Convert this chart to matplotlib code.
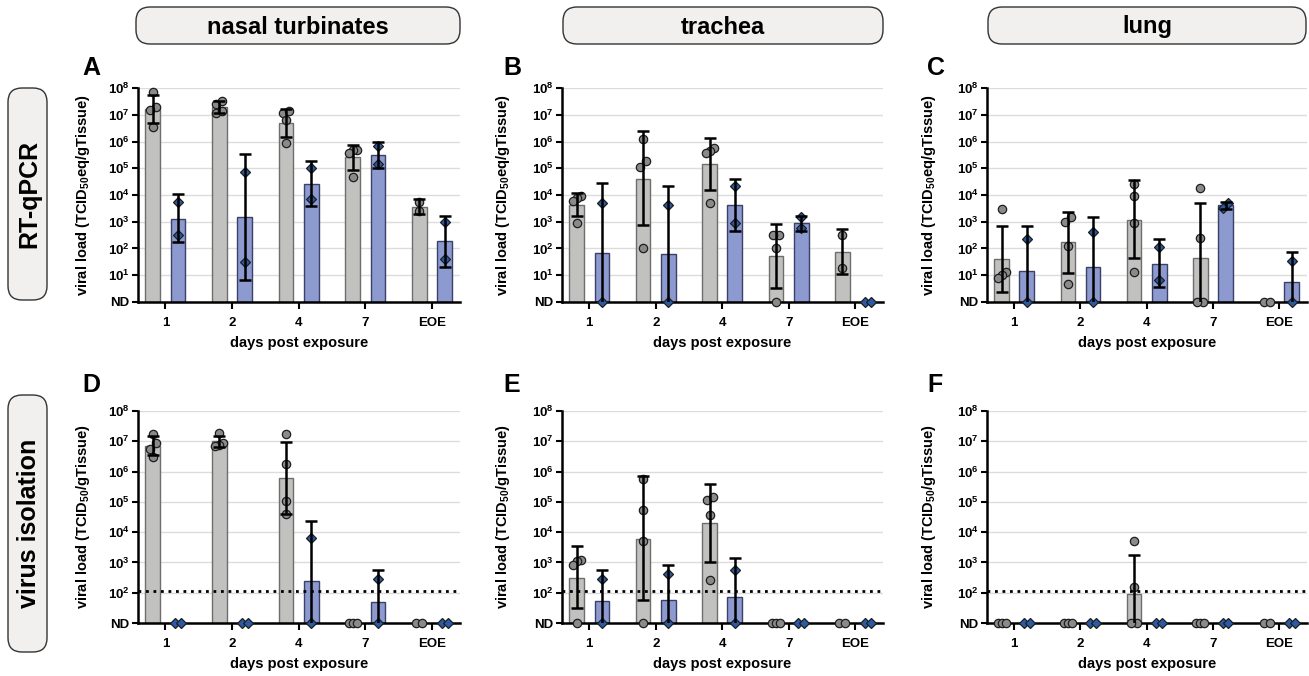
import matplotlib
matplotlib.use('Agg')
import matplotlib.pyplot as plt
import numpy as np
from matplotlib.patches import FancyBboxPatch

plt.rcParams['font.family'] = ['Liberation Sans', 'DejaVu Sans']
plt.rcParams['font.weight'] = 'bold'
plt.rcParams['mathtext.fontset'] = 'custom'
plt.rcParams['mathtext.rm'] = 'Liberation Sans'
plt.rcParams['mathtext.bf'] = 'Liberation Sans:bold'

W, H = 1309, 676
days = ['1', '2', '4', '7', 'EOE']
tissues = ['nasal turbinates', 'trachea', 'lung']
assays = ['RT-qPCR', 'virus isolation']
ND = 0  # not detected

# ---- RT-qPCR, nasal turbinates (A)
a_grey_mean = [1.6e7, 1.95e7, 4.9e6, 2.6e5, 3.5e3]
a_grey_hi = [5.6e7, 3.2e7, 1.7e7, 7.6e5, 6.8e3]
a_grey_lo = [4.9e6, 1.2e7, 1.5e6, 8.3e4, 1.95e3]
a_grey_pts = [[7e7, 2.0e7, 1.55e7, 3.5e6], [2.6e7, 3.2e7, 1.2e7, 1.35e7],
              [1.2e7, 1.35e7, 6.2e6, 8.7e5], [4.9e5, 4.9e5, 3.7e5, 4.7e4], [5.4e3, 2.5e3]]
a_blue_mean = [1.3e3, 1.5e3, 2.6e4, 3.2e5, 1.9e2]
a_blue_hi = [1.05e4, 3.5e5, 1.8e5, 9.8e5, 1.7e3]
a_blue_lo = [1.7e2, 6.5, 4.0e3, 1.0e5, 20]
a_blue_pts = [[5.6e3, 3.2e2], [7.1e4, 32], [1.0e5, 6.8e3], [6.9e5, 1.4e5], [9.5e2, 41]]

# ---- RT-qPCR, trachea (B)
b_grey_mean = [4.3e3, 4.0e4, 1.45e5, 52, 76]
b_grey_hi = [1.23e4, 2.4e6, 1.35e6, 830, 550]
b_grey_lo = [1.6e3, 780, 1.55e4, 3.4, 10.7]
b_grey_pts = [[9.5e3, 7.5e3, 6e3, 9e2], [1.25e6, 1.8e5, 1.15e5, 107],
              [5.6e5, 4.6e5, 3.6e5, 4.9e3], [310, 310, 100, ND], [310, 19]]
b_blue_mean = [68, 60, 4.3e3, 910, None]
b_blue_hi = [2.8e4, 2.2e4, 4.1e4, 1.7e3, None]
b_blue_lo = [ND, ND, 450, 470, None]
b_blue_pts = [[4.9e3, ND], [4.1e3, ND], [2.1e4, 890], [1.5e3, 590], [ND, ND]]

# ---- RT-qPCR, lung (C)
c_grey_mean = [41, 174, 1.2e3, 45, None]
c_grey_hi = [690, 2.4e3, 3.5e4, 5.1e3, None]
c_grey_lo = [2.4, 12.3, 45, ND, None]
c_grey_pts = [[2.9e3, 13, 9.8, 7.8], [1.0e3, 1.5e3, 129, 4.7],
              [2.6e4, 9.1e3, 870, 13.3], [1.8e4, 245, ND, ND], [ND, ND]]
c_blue_mean = [15, 20, 27, 4.1e3, 5.6]
c_blue_hi = [690, 1.45e3, 220, 5.4e3, 72]
c_blue_lo = [ND, ND, 3.5, 3.0e3, ND]
c_blue_pts = [[230, ND], [410, ND], [115, 6.5], [3.3e3, 5e3], [35, ND]]

# ---- virus isolation, nasal turbinates (D)
d_grey_mean = [7.1e6, 1.0e7, 6.0e5, None, None]
d_grey_hi = [1.5e7, 1.55e7, 9.5e6, None, None]
d_grey_lo = [3.5e6, 6.6e6, 3.9e4, None, None]
d_grey_pts = [[1.75e7, 9.1e6, 5.5e6, 3.0e6], [1.85e7, 9.1e6, 7.8e6, 7.1e6],
              [1.75e7, 1.8e6, 1.1e5, 4.1e4], [ND, ND, ND], [ND, ND]]
d_blue_mean = [None, None, 245, 51, None]
d_blue_hi = [None, None, 2.3e4, 560, None]
d_blue_lo = [None, None, ND, ND, None]
d_blue_pts = [[ND, ND], [ND, ND], [6.2e3, ND], [275, ND], [ND, ND]]

# ---- virus isolation, trachea (E)
e_grey_mean = [310, 6.0e3, 2.0e4, None, None]
e_grey_hi = [3.5e3, 7.1e5, 3.8e5, None, None]
e_grey_lo = [31, 56, 1.07e3, None, None]
e_grey_pts = [[1.23e3, 1.15e3, 850, ND], [5.8e5, 5.4e4, 5.2e3, ND],
              [1.15e5, 1.5e5, 3.6e4, 270], [ND, ND, ND], [ND, ND]]
e_blue_mean = [52, 59, 72, None, None]
e_blue_hi = [575, 850, 1.4e3, None, None]
e_blue_lo = [ND, ND, ND, None, None]
e_blue_pts = [[290, ND], [400, ND], [575, ND], [ND, ND], [ND, ND]]

# ---- virus isolation, lung (F)
f_grey_mean = [None, None, 91, None, None]
f_grey_hi = [None, None, 1.8e3, None, None]
f_grey_lo = [None, None, ND, None, None]
f_grey_pts = [[ND, ND, ND], [ND, ND, ND], [5.2e3, 150, ND, ND], [ND, ND, ND], [ND, ND]]
f_blue_mean = [None] * 5
f_blue_hi = [None] * 5
f_blue_lo = [None] * 5
f_blue_pts = [[ND, ND]] * 5

lod_vi = 110  # detection limit, virus isolation

panels = [
    ('A', a_grey_mean, a_grey_hi, a_grey_lo, a_grey_pts, a_blue_mean, a_blue_hi, a_blue_lo, a_blue_pts),
    ('B', b_grey_mean, b_grey_hi, b_grey_lo, b_grey_pts, b_blue_mean, b_blue_hi, b_blue_lo, b_blue_pts),
    ('C', c_grey_mean, c_grey_hi, c_grey_lo, c_grey_pts, c_blue_mean, c_blue_hi, c_blue_lo, c_blue_pts),
    ('D', d_grey_mean, d_grey_hi, d_grey_lo, d_grey_pts, d_blue_mean, d_blue_hi, d_blue_lo, d_blue_pts),
    ('E', e_grey_mean, e_grey_hi, e_grey_lo, e_grey_pts, e_blue_mean, e_blue_hi, e_blue_lo, e_blue_pts),
    ('F', f_grey_mean, f_grey_hi, f_grey_lo, f_grey_pts, f_blue_mean, f_blue_hi, f_blue_lo, f_blue_pts),
]

GREY_BAR, GREY_EDGE, GREY_PT = '#C1C2C0', '#6E6E6E', '#8A8A8A'
BLUE_BAR, BLUE_EDGE, BLUE_PT = '#8C9AD0', '#3B4066', '#2B5AA5'
PX_CAT = 66.5  # pixels per category


def swarm(vals, nd, px_dec, thr=7.0):
    # spread points that overlap vertically, like a scatter dot plot
    v = np.array([nd if x == ND else x for x in vals], dtype=float)
    y = np.log10(v)
    order = np.argsort(y)
    offs = np.zeros(len(y))
    clusters = []
    for i in order:
        if clusters and (y[i] - y[clusters[-1][-1]]) * px_dec < thr:
            clusters[-1].append(i)
        else:
            clusters.append([i])
    for c in clusters:
        n = len(c)
        if n < 2:
            continue
        step = (6.0 + (n - 2) * 2.0) / (n - 1) / PX_CAT
        for k, i in enumerate(c):
            offs[i] = (k - (n - 1) / 2) * step
    return offs, v


def draw_group(ax, xc, mean, hi, lo, pts, nd, px_dec, bar_c, edge_c, pt_c, marker, ms):
    for i in range(len(days)):
        x = xc[i]
        if mean[i] is not None:
            ax.bar(x, mean[i] - nd, bottom=nd, width=0.22, color=bar_c,
                   edgecolor=edge_c, linewidth=1.0, zorder=2)
        offs, v = swarm(pts[i], nd, px_dec)
        ax.plot(x + offs, v, linestyle='none', marker=marker, ms=ms,
                mfc=pt_c, mec='#1E1E1E', mew=0.9, zorder=3, clip_on=False)
        if mean[i] is not None:
            low = nd * 0.05 if lo[i] == ND else lo[i]
            ax.errorbar(x, mean[i], yerr=[[mean[i] - low], [hi[i] - mean[i]]],
                        fmt='none', ecolor='black', elinewidth=1.8, capsize=4.5,
                        capthick=1.8, zorder=4)


fig = plt.figure(figsize=(W / 100, H / 100), dpi=100)

# overlay in pixel units for header boxes
ov = fig.add_axes([0, 0, 1, 1])
ov.set_xlim(0, W)
ov.set_ylim(H, 0)
ov.axis('off')

col_boxes = [(136, 460), (563, 883), (988, 1306)]
for (x0, x1), name in zip(col_boxes, tissues):
    ov.add_patch(FancyBboxPatch((x0, 7), x1 - x0, 37, boxstyle='round,pad=0,rounding_size=14',
                                fc='#F2F0EF', ec='#333333', lw=1.0))
    ov.text((x0 + x1) / 2, 27, name, ha='center', va='center', fontsize=17, fontweight='bold')

row_boxes = [(88, 300), (395, 652)]
for (y0, y1), name in zip(row_boxes, assays):
    ov.add_patch(FancyBboxPatch((8, y0), 39, y1 - y0, boxstyle='round,pad=0,rounding_size=14',
                                fc='#F2F0EF', ec='#333333', lw=1.0))
    ov.text(29, (y0 + y1) / 2, name, ha='center', va='center', rotation=90,
            fontsize=18, fontweight='bold')

col_left = [138, 562, 987]
col_w = [322, 321, 320]
row_top = [88, 411]
row_bot = [302, 623]
letter_x = [82, 503, 927]
letter_y = [75, 392]
ylab_x = [92, 512, 938]

xpos = np.arange(len(days))
for idx, p in enumerate(panels):
    letter, gm, gh, gl, gp, bm, bh, bl, bp = p
    r, c = divmod(idx, 3)
    left, width = col_left[c], col_w[c]
    top, bot = row_top[r], row_bot[r]
    ax = fig.add_axes([left / W, 1 - bot / H, width / W, (bot - top) / H])
    nd = 1.0 if r == 0 else 10.0
    ndec = 8 if r == 0 else 7
    px_dec = (bot - top) / ndec

    ax.set_yscale('log')
    ax.set_ylim(nd, 1e8)
    ax.set_xlim(-0.41, 4.42)
    decs = np.arange(int(np.log10(nd)), 9)
    ax.set_yticks([10.0 ** d for d in decs])
    ax.set_yticklabels(['ND'] + [r'$\mathbf{10^{%d}}$' % d for d in decs[1:]])
    ax.yaxis.set_minor_locator(matplotlib.ticker.NullLocator())
    ax.set_xticks(xpos)
    ax.set_xticklabels(days)
    ax.tick_params(axis='both', direction='out', width=1.5, labelsize=9.5, colors='black')
    ax.tick_params(axis='y', length=4, pad=2)
    ax.tick_params(axis='x', length=5, pad=6)
    for s in ['top', 'right']:
        ax.spines[s].set_visible(False)
    for s in ['left', 'bottom']:
        ax.spines[s].set_linewidth(1.8)
    ax.yaxis.grid(True, color='#DCDCDC', lw=1.0)
    ax.set_axisbelow(True)

    draw_group(ax, xpos - 0.19, gm, gh, gl, gp, nd, px_dec, GREY_BAR, GREY_EDGE, GREY_PT, 'o', 6)
    draw_group(ax, xpos + 0.19, bm, bh, bl, bp, nd, px_dec, BLUE_BAR, BLUE_EDGE, BLUE_PT, 'D', 5.2)

    if r == 1:
        ax.axhline(lod_vi, color='black', lw=2.0, linestyle=(0, (1, 1.7)), zorder=3.5)
        ylab = r'viral load (TCID$_{50}$/gTissue)'
    else:
        ylab = r'viral load (TCID$_{50}$eq/gTissue)'
    ax.set_ylabel(ylab, fontsize=10.5, fontweight='bold')
    ax.yaxis.set_label_coords((ylab_x[c] - left) / width, 0.5)
    ax.set_xlabel('days post exposure', fontsize=10.5, fontweight='bold')
    ax.xaxis.set_label_coords(0.5, -34 / (bot - top))

    ov.text(letter_x[c], letter_y[r], letter, ha='left', va='baseline',
            fontsize=18, fontweight='bold')

fig.savefig('out.png', dpi=100)
